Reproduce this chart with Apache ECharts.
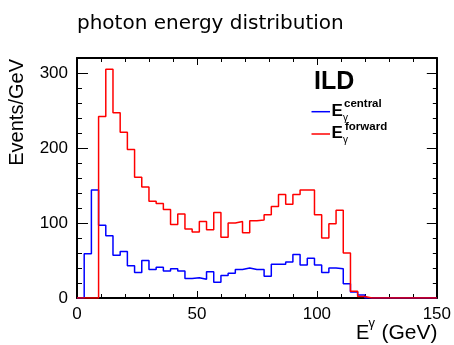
<!DOCTYPE html>
<html>
<head>
<meta charset="utf-8">
<script src="https://cdn.jsdelivr.net/npm/echarts@6/dist/echarts.min.js"></script>
<style>
html,body{margin:0;padding:0;background:#fff;}
#chart{width:454px;height:345px;}
</style>
</head>
<body>
<div id="chart"></div>
<script>
// Histogram definition: 50 bins of 3 GeV from 0 to 150 GeV
const binStart = 0;
const binWidth = 3;
// E_gamma central (blue), Events/GeV per bin
const centralValues = [
  0, 59, 144, 97, 83, 57, 62, 43, 34, 50,
  38, 41, 36, 39, 36, 26, 27, 25, 35, 21,
  30, 33, 38, 40, 38, 38, 29, 45, 45, 48,
  58, 44, 53, 44, 34, 40, 39, 19, 8, 4,
  0, 0, 0, 0, 0, 0, 0, 0, 0, 0
];
// E_gamma forward (red), Events/GeV per bin
const forwardValues = [
  0, 0, 0, 242, 305, 247, 221, 198, 161, 148,
  129, 126, 118, 98, 112, 92, 88, 102, 91, 114,
  81, 100, 102, 87, 103, 104, 111, 122, 138, 125,
  138, 144, 144, 111, 80, 99, 117, 60, 9, 2,
  0, 0, 0, 0, 0, 0, 0, 0, 0, 0
];
const xTicks = [0, 50, 100, 150];
const yTicks = [0, 100, 200, 300];
const titleText = 'photon energy distribution';
const yTitle = 'Events/GeV';

function histPoints(vals) {
  const pts = vals.map((v, i) => [binStart + i * binWidth, v]);
  pts.push([binStart + vals.length * binWidth, vals[vals.length - 1]]);
  return pts;
}

const FONT = 'Liberation Sans, Arial, sans-serif';
const chart = echarts.init(document.getElementById('chart'), null, {renderer: 'canvas'});

const frameLine = {show: true, onZero: false, lineStyle: {color: '#000', width: 2}};
const xCommon = {
  type: 'value', min: xTicks[0], max: xTicks[xTicks.length - 1], interval: 50,
  splitLine: {show: false}, minorSplitLine: {show: false},
  axisLine: frameLine,
  axisTick: {show: true, inside: true, length: 7, lineStyle: {color: '#000', width: 1}},
  minorTick: {show: true, splitNumber: 5, length: 4, lineStyle: {color: '#000', width: 1}}
};
const yMajor = {
  type: 'value', min: 0, max: 320, interval: 100,
  splitLine: {show: false},
  axisLine: frameLine,
  axisTick: {show: true, inside: true, length: 11, lineStyle: {color: '#000', width: 1}}
};
const yMinor = {
  type: 'value', min: 0, max: 320, interval: 20,
  splitLine: {show: false},
  axisLine: {show: false, onZero: false},
  axisLabel: {show: false},
  axisTick: {show: true, inside: true, length: 5, lineStyle: {color: '#000', width: 1}}
};

const option = {
  backgroundColor: '#fff',
  animation: false,
  title: {
    text: titleText, left: 72, top: 9,
    textStyle: {fontFamily: 'DejaVu Sans', fontSize: 20, fontWeight: 'normal', color: '#000'}
  },
  grid: {left: 77, right: 17, top: 58, bottom: 47, containLabel: false},
  xAxis: [
    Object.assign({}, xCommon, {
      position: 'bottom',
      axisLabel: {show: true, margin: 8, fontSize: 17, fontFamily: FONT, color: '#000'}
    }),
    Object.assign({}, xCommon, {position: 'top', axisLabel: {show: false}})
  ],
  yAxis: [
    Object.assign({}, yMajor, {
      position: 'left',
      axisLabel: {show: true, margin: 9, fontSize: 17, fontFamily: FONT, color: '#000', showMaxLabel: false}
    }),
    Object.assign({}, yMajor, {position: 'right', axisLabel: {show: false},
      axisTick: {show: true, inside: true, length: 10, lineStyle: {color: '#000', width: 1}}}),
    Object.assign({}, yMinor, {position: 'left'}),
    Object.assign({}, yMinor, {position: 'right',
      axisTick: {show: true, inside: true, length: 4, lineStyle: {color: '#000', width: 1}}})
  ],
  series: [
    {
      name: 'central', type: 'line', step: 'end', xAxisIndex: 0, yAxisIndex: 0,
      data: histPoints(centralValues), showSymbol: false, symbol: 'none',
      lineStyle: {color: '#0000ff', width: 1.5}, itemStyle: {color: '#0000ff'}, z: 3
    },
    {
      name: 'forward', type: 'line', step: 'end', xAxisIndex: 0, yAxisIndex: 0,
      data: histPoints(forwardValues), showSymbol: false, symbol: 'none',
      lineStyle: {color: '#ff0000', width: 1.5}, itemStyle: {color: '#ff0000'}, z: 4
    }
  ],
  graphic: [
    // y axis title
    {type: 'text', x: 17.5, y: 59, rotation: Math.PI / 2,
     style: {text: yTitle, font: '20px ' + FONT, fill: '#000', align: 'right', verticalAlign: 'middle'}},
    // x axis title E^gamma (GeV)
    {type: 'text', x: 356, y: 333.3,
     style: {text: 'E', font: '20px ' + FONT, fill: '#000', align: 'left', verticalAlign: 'middle'}},
    {type: 'text', x: 368.5, y: 323.5,
     style: {text: 'γ', font: '13px ' + FONT, fill: '#000', align: 'left', verticalAlign: 'middle'}},
    {type: 'text', x: 437.5, y: 333.3,
     style: {text: '(GeV)', font: '21px ' + FONT, fill: '#000', align: 'right', verticalAlign: 'middle'}},
    // ILD label
    {type: 'text', x: 314, y: 81.7,
     style: {text: 'ILD', font: 'bold 25px ' + FONT, fill: '#000', align: 'left', verticalAlign: 'middle'}},
    // legend entries
    {type: 'line', shape: {x1: 311.5, y1: 111.7, x2: 330, y2: 111.7}, style: {stroke: '#0000ff', lineWidth: 1.5}},
    {type: 'text', x: 331.5, y: 111,
     style: {text: 'E', font: 'bold 17px ' + FONT, fill: '#000', align: 'left', verticalAlign: 'middle'}},
    {type: 'text', x: 344, y: 104,
     style: {text: 'central', font: 'bold 11.5px ' + FONT, fill: '#000', align: 'left', verticalAlign: 'middle'}},
    {type: 'text', x: 343, y: 118,
     style: {text: 'γ', font: '10px ' + FONT, fill: '#000', align: 'left', verticalAlign: 'middle'}},
    {type: 'line', shape: {x1: 311.5, y1: 134, x2: 330, y2: 134}, style: {stroke: '#ff0000', lineWidth: 1.5}},
    {type: 'text', x: 331.5, y: 133.5,
     style: {text: 'E', font: 'bold 17px ' + FONT, fill: '#000', align: 'left', verticalAlign: 'middle'}},
    {type: 'text', x: 345, y: 127,
     style: {text: 'forward', font: 'bold 11.5px ' + FONT, fill: '#000', align: 'left', verticalAlign: 'middle'}},
    {type: 'text', x: 343, y: 140,
     style: {text: 'γ', font: '10px ' + FONT, fill: '#000', align: 'left', verticalAlign: 'middle'}}
  ]
};
chart.setOption(option);
</script>
</body>
</html>
